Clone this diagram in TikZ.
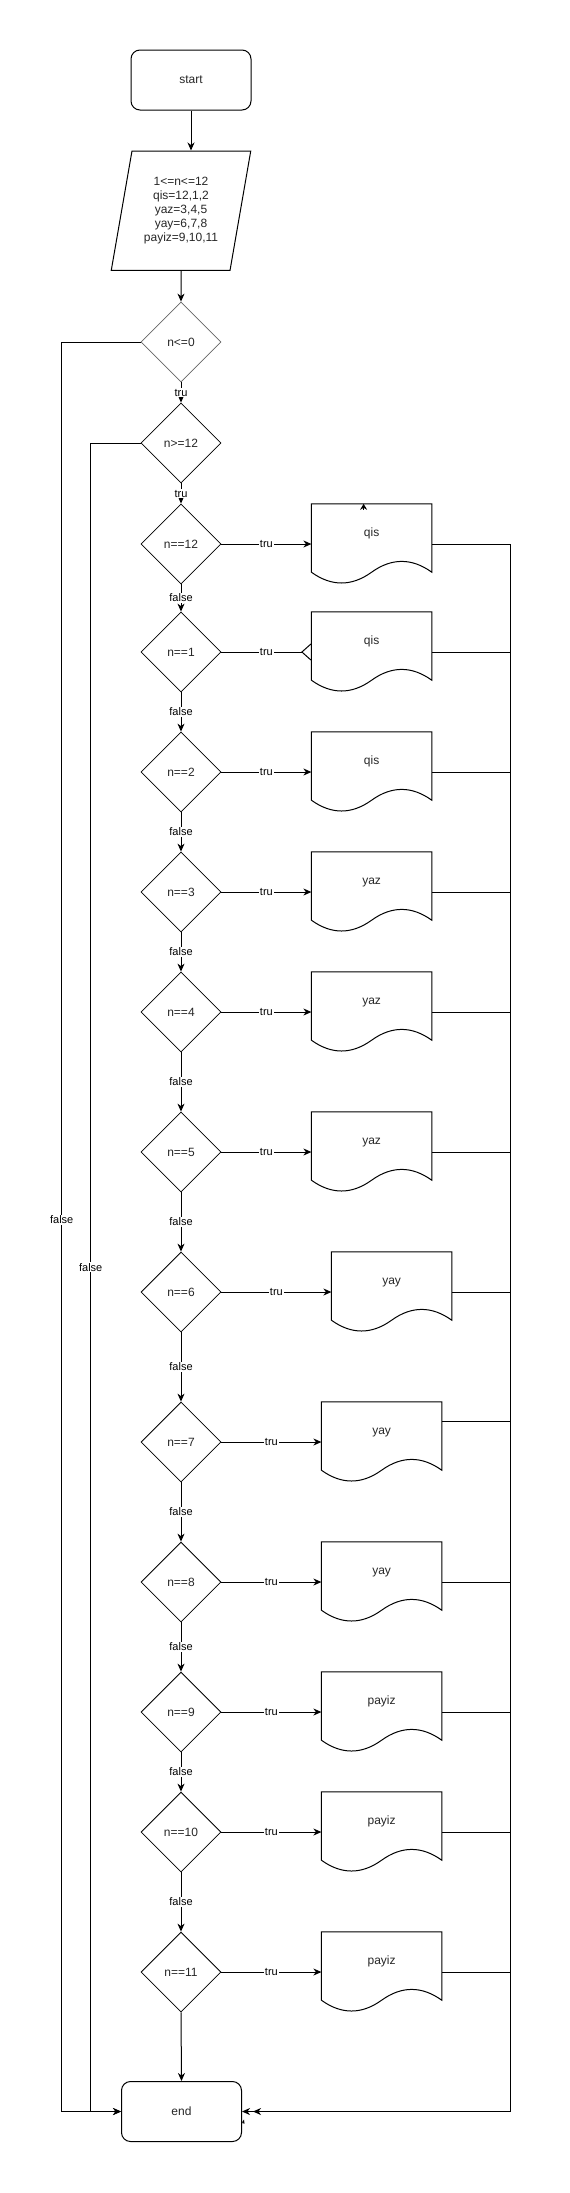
\documentclass[tikz,border=0pt]{standalone}
\usepackage{fontspec}
\setmainfont{Liberation Sans}
\usepackage{tikz}
\usetikzlibrary{positioning,shapes.geometric,arrows.meta,calc}

% outline of a document shape (wavy bottom) around a docbox node
\newcommand{\docoutline}[1]{%
  \draw[line width=1pt] (#1.north west) -- (#1.north east) -- ($(#1.south east)+(0,-12)$)
    .. controls +(-20,-14.4) and +(20,-14.4) .. ($(#1.south)+(0,-12)$)
    .. controls +(-20,14.4) and +(20,14.4) .. ($(#1.south west)+(0,-12)$) -- cycle;}

\begin{document}
\begin{tikzpicture}[
    x=1pt, y=-1pt,                                    % pixel units, y grows downwards
    every node/.style={font=\fontsize{12}{14}\selectfont, text=black!85},
    term/.style={rectangle, rounded corners=9pt, draw, line width=1pt,
        minimum width=120pt, minimum height=60pt, inner sep=0pt},   % start / end
    inbox/.style={trapezium, trapezium left angle=76.8, trapezium right angle=103.2,
        trapezium stretches=true, draw, line width=1pt, align=center,
        minimum width=139.5pt, minimum height=119.4pt, inner sep=0pt}, % input data
    decision/.style={diamond, aspect=1, draw, line width=0.8pt,
        minimum width=80pt, minimum height=80pt, inner sep=0pt},    % tests
    docbox/.style={rectangle, minimum width=120pt, minimum height=80pt,
        inner sep=0pt, text height=9pt, text depth=25pt},           % outputs
    lbl/.style={font=\fontsize{11}{12}\selectfont, text=black, fill=white, inner sep=1pt},
    wire/.style={line width=1pt},
    flow/.style={wire, -{Stealth[length=8pt, width=7pt, inset=2.5pt]}},
    stub/.style={wire, -{Stealth[length=6pt, width=7pt, inset=2pt]}}
    ]

    \useasboundingbox (0,0) rectangle (570,2193);

    % start and input
    \node[term] (start) at (191,80) {start};
    \node[inbox] (data) at (181,210.7) {1<=n<=12\\qis=12,1,2\\yaz=3,4,5\\yay=6,7,8\\payiz=9,10,11};

    % range checks
    \node[decision, draw=black!60] (le0) at (181,342) {n<=0};
    \node[decision] (ge12) at (181,443) {n>=12};

    % one test per month
    \node[decision] (m12) at (181,544) {n==12};
    \node[decision] (m1) at (181,652) {n==1};
    \node[decision] (m2) at (181,772) {n==2};
    \node[decision] (m3) at (181,892) {n==3};
    \node[decision] (m4) at (181,1012) {n==4};
    \node[decision] (m5) at (181,1152) {n==5};
    \node[decision] (m6) at (181,1292) {n==6};
    \node[decision] (m7) at (181,1442) {n==7};
    \node[decision] (m8) at (181,1582) {n==8};
    \node[decision] (m9) at (181,1712) {n==9};
    \node[decision] (m10) at (181,1832) {n==10};
    \node[decision] (m11) at (181,1972) {n==11};

    \node[term] (end) at (181.5,2111.5) {end};

    % season outputs
    \node[docbox, right=90pt of m12] (q12) {qis};
    \node[docbox, right=90pt of m1] (q1) {qis};
    \node[docbox, right=90pt of m2] (q2) {qis};
    \node[docbox, right=90pt of m3] (z3) {yaz};
    \node[docbox, right=90pt of m4] (z4) {yaz};
    \node[docbox, right=90pt of m5] (z5) {yaz};
    \node[docbox, right=110pt of m6] (y6) {yay};
    \node[docbox, right=100pt of m7] (y7) {yay};
    \node[docbox, right=100pt of m8] (y8) {yay};
    \node[docbox, right=100pt of m9] (p9) {payiz};
    \node[docbox, right=100pt of m10] (p10) {payiz};
    \node[docbox, right=100pt of m11] (p11) {payiz};

    \docoutline{q12} \docoutline{q1} \docoutline{q2}
    \docoutline{z3} \docoutline{z4} \docoutline{z5}
    \docoutline{y6} \docoutline{y7} \docoutline{y8}
    \docoutline{p9} \docoutline{p10} \docoutline{p11}

    % main column
    \draw[flow] (start.south) -- (start.south |- data.north);
    \draw[flow] (data.south) -- (le0.north);
    \draw[flow] (le0.south) -- node[lbl] {tru} (ge12.north);
    \draw[flow] (ge12.south) -- node[lbl] {tru} (m12.north);
    \draw[flow] (m12.south) -- node[lbl] {false} (m1.north);
    \draw[flow] (m1.south) -- node[lbl] {false} (m2.north);
    \draw[flow] (m2.south) -- node[lbl] {false} (m3.north);
    \draw[flow] (m3.south) -- node[lbl] {false} (m4.north);
    \draw[flow] (m4.south) -- node[lbl] {false} (m5.north);
    \draw[flow] (m5.south) -- node[lbl] {false} (m6.north);
    \draw[flow] (m6.south) -- node[lbl] {false} (m7.north);
    \draw[flow] (m7.south) -- node[lbl] {false} (m8.north);
    \draw[flow] (m8.south) -- node[lbl] {false} (m9.north);
    \draw[flow] (m9.south) -- node[lbl] {false} (m10.north);
    \draw[flow] (m10.south) -- node[lbl] {false} (m11.north);
    \draw[flow] (m11.south) -- (end.north);

    % true branches to the outputs
    \draw[flow] (m12.east) -- node[lbl] {tru} (q12.west);
    \draw[wire, -{Straight Barb[reversed, length=9pt, width=16pt]}] (m1.east) -- node[lbl] {tru} (q1.west);
    \draw[flow] (m2.east) -- node[lbl] {tru} (q2.west);
    \draw[flow] (m3.east) -- node[lbl] {tru} (z3.west);
    \draw[flow] (m4.east) -- node[lbl] {tru} (z4.west);
    \draw[flow] (m5.east) -- node[lbl] {tru} (z5.west);
    \draw[flow] (m6.east) -- node[lbl] {tru} (y6.west);
    \draw[flow] (m7.east) -- node[lbl] {tru} (y7.west);
    \draw[flow] (m8.east) -- node[lbl] {tru} (y8.west);
    \draw[flow] (m9.east) -- node[lbl] {tru} (p9.west);
    \draw[flow] (m10.east) -- node[lbl] {tru} (p10.west);
    \draw[flow] (m11.east) -- node[lbl] {tru} (p11.west);

    % out of range: straight to end
    \coordinate (lo) at (61.7,0);
    \coordinate (li) at (90.7,0);
    \draw[flow] (le0.west) -- (le0.west -| lo) |- node[lbl, pos=.248] {false} (end.west);
    \draw[flow] (ge12.west) -- (ge12.west -| li) |- node[lbl, pos=.247] {false} (end.west);

    % outputs join the line on the right
    \coordinate (bus) at (510.7,2111.5);
    \coordinate (y7r) at ($(y7.north east)!.25!(y7.south east)$);
    \draw[wire] (q12.east) -| (bus);
    \draw[wire] (q1.east) -- (q1.east -| bus);
    \draw[wire] (q2.east) -- (q2.east -| bus);
    \draw[wire] (z3.east) -- (z3.east -| bus);
    \draw[wire] (z4.east) -- (z4.east -| bus);
    \draw[wire] (z5.east) -- (z5.east -| bus);
    \draw[wire] (y6.east) -- (y6.east -| bus);
    \draw[wire] (y7r) -- (y7r -| bus);
    \draw[wire] (y8.east) -- (y8.east -| bus);
    \draw[wire] (p9.east) -- (p9.east -| bus);
    \draw[wire] (p10.east) -- (p10.east -| bus);
    \draw[wire] (p11.east) -- (p11.east -| bus);
    \draw[wire, -{Stealth[length=8pt, width=7pt, inset=2.5pt, sep=3pt]Stealth[length=8pt, width=7pt, inset=2.5pt]}] (bus) -- (end.east);

    % loose arrow tips
    \draw[stub] ($(q12.north)+(-8,6)$) -- ($(q12.north)+(-8,0)$);
    \draw[wire, -{Stealth[length=4pt, width=3pt]}] ($(end.east)+(1,12)$) -- ($(end.east)+(2,8)$);

\end{tikzpicture}
\end{document}
